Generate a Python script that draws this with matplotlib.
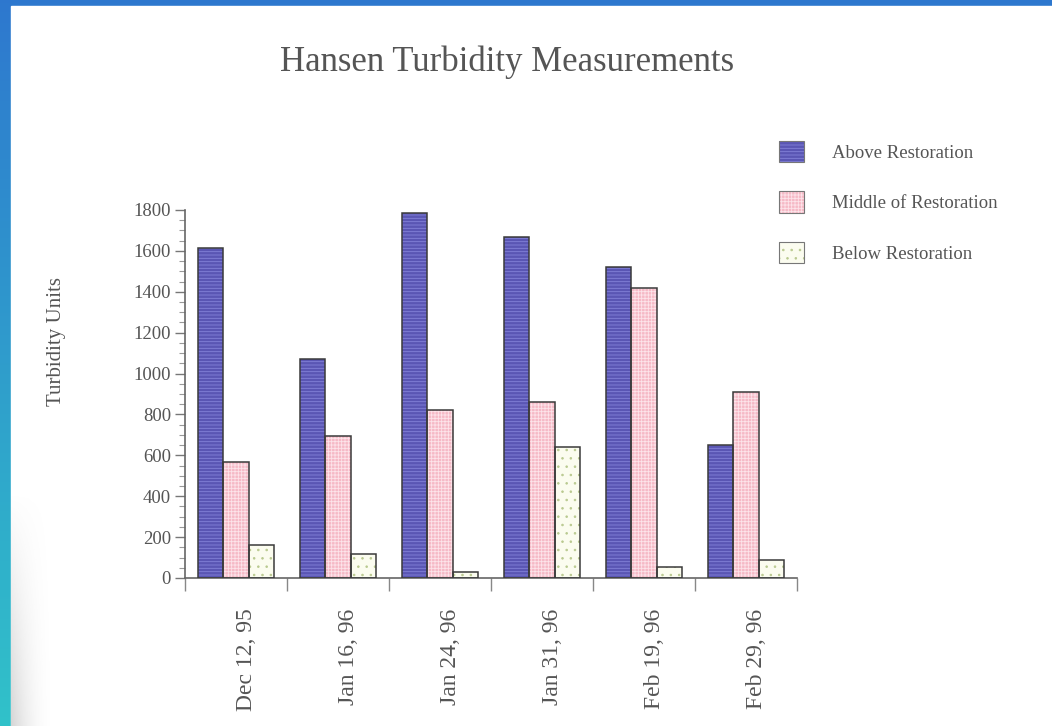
import numpy as np
import matplotlib
matplotlib.use("Agg")
import matplotlib.pyplot as plt
from matplotlib.patches import Rectangle, Patch
from matplotlib.transforms import offset_copy

dates = ["Dec 12, 95", "Jan 16, 96", "Jan 24, 96", "Jan 31, 96", "Feb 19, 96", "Feb 29, 96"]
above = [1615, 1070, 1785, 1670, 1520, 650]
middle = [565, 693, 820, 860, 1420, 910]
below = [160, 117, 30, 640, 55, 90]
series_names = ["Above Restoration", "Middle of Restoration", "Below Restoration"]

plt.rcParams['font.family'] = ['Liberation Serif', 'DejaVu Serif']
plt.rcParams['hatch.linewidth'] = 0.6
txt = '#555555'

fig = plt.figure(figsize=(10.52, 7.26), dpi=100)

# scanned page background: blue border with a white sheet
bg = fig.add_axes([0, 0, 1, 1], zorder=-10)
grad = np.linspace(0, 1, 256).reshape(-1, 1)
top_c = np.array([0.18, 0.47, 0.81])
bot_c = np.array([0.19, 0.76, 0.79])
img = top_c + (bot_c - top_c) * grad[:, :, None]
bg.imshow(img, aspect='auto', extent=[0, 1, 0, 1], origin='upper', zorder=0)
bg.add_patch(Rectangle((11 / 1052, 0), 1, 720 / 726, color='white', zorder=1))
# page shadow at the lower left edge
sh = np.zeros((60, 40, 4))
xs = np.linspace(0, 1, 40)
ys = np.linspace(0, 1, 60)
sh[..., :3] = 0.6
sh[..., 3] = (1 - xs[None, :]) ** 2 * 0.4 * np.clip(1 - ys[:, None] * 1.3, 0, 1)
bg.imshow(sh, aspect='auto', extent=[11 / 1052, 55 / 1052, 0, 0.42], origin='lower', zorder=2)
bg.set_xlim(0, 1)
bg.set_ylim(0, 1)
bg.axis('off')

ax = fig.add_axes([185 / 1052, 148 / 726, 612 / 1052, 368 / 726])
x = np.arange(len(dates))
w = 0.25
styles = [
    dict(face='#5a56b4', hatch='-----', hc='#8482d8'),
    dict(face='#f6b9c6', hatch='+++++', hc='#fde4ea'),
    dict(face='#fbfcef', hatch='..', hc='#b9c98f'),
]
handles = []
for i, (vals, st) in enumerate(zip([above, middle, below], styles)):
    pos = x + (i - 1) * w
    ax.bar(pos, vals, w, color=st['face'], hatch=st['hatch'], edgecolor=st['hc'], linewidth=0, zorder=2)
    ax.bar(pos, vals, w, fill=False, edgecolor='#3a3a3a', linewidth=1.1, zorder=3)
    handles.append((Patch(facecolor=st['face'], hatch=st['hatch'], edgecolor=st['hc'], linewidth=0),
                    Patch(fill=False, edgecolor='#777777', linewidth=0.8)))

ax.set_xlim(-0.5, len(dates) - 0.5)
ax.set_ylim(0, 1800)
for s in ['top', 'right']:
    ax.spines[s].set_visible(False)
for s in ['left', 'bottom']:
    ax.spines[s].set_color('#666666')
    ax.spines[s].set_linewidth(1.2)
ax.set_facecolor('none')

ax.set_yticks(np.arange(0, 1801, 200))
ax.set_yticks(np.arange(0, 1801, 50), minor=True)
ax.tick_params(axis='y', which='major', length=7, width=1, color='#777777', labelsize=13.5,
               labelcolor=txt, pad=3)
ax.tick_params(axis='y', which='minor', length=4, width=0.8, color='#999999')

ax.set_xticks(x)
ax.set_xticks(np.arange(-0.5, len(dates)), minor=True)
ax.set_xticklabels(dates, rotation=90, va='top', ha='center')
ax.tick_params(axis='x', which='major', length=0, labelsize=17, labelcolor=txt, pad=22)
ax.tick_params(axis='x', which='minor', length=9, width=1, color='#888888')
for lab in ax.get_xticklabels():
    lab.set_transform(offset_copy(lab.get_transform(), fig=fig, x=10, y=0, units='dots'))

fig.text(57 / 1052, 1 - 342 / 726, "Turbidity Units", rotation=90, ha='center', va='center',
         fontsize=15, color=txt)
fig.text(507 / 1052, 1 - 62 / 726, "Hansen Turbidity Measurements", ha='center', va='center',
         fontsize=25, color=txt)

fig.legend(handles, series_names, loc='upper left', bbox_to_anchor=(779 / 1052, 1 - 141 / 726),
           frameon=False, fontsize=13.5, labelcolor=txt, handlelength=1.35, handleheight=1.35,
           handletextpad=1.5, labelspacing=1.57, borderpad=0, borderaxespad=0)

fig.savefig("out.png", dpi=100)
